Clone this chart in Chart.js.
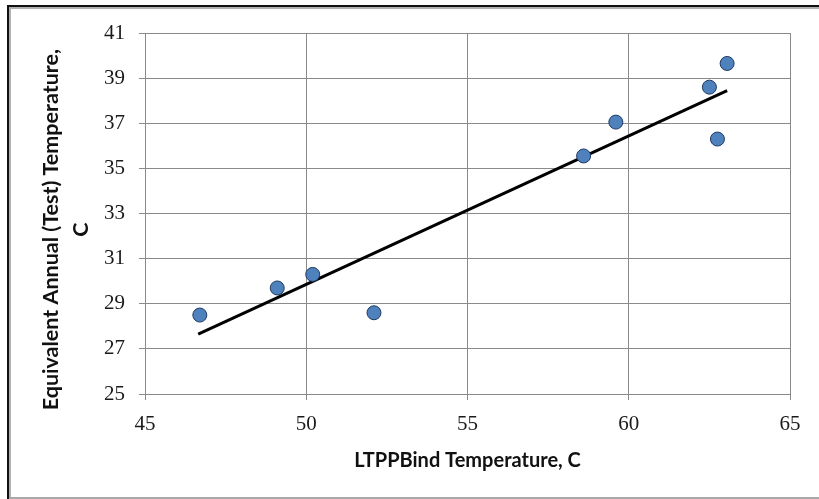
<!DOCTYPE html>
<html>
<head>
<meta charset="utf-8">
<script src="https://cdn.jsdelivr.net/npm/chart.js@4/dist/chart.umd.min.js"></script>
<style>
  html, body { margin: 0; padding: 0; background: #ffffff; }
  #wrap { position: relative; width: 819px; height: 499px; }
  canvas { display: block; }
</style>
</head>
<body>
<div id="wrap"><canvas id="c" width="819" height="499"></canvas></div>
<script>
// Data
const ltppbindTemp = [46.7, 49.1, 50.2, 52.1, 58.6, 59.6, 62.5, 63.05, 62.75];
const equivTemp    = [28.5, 29.7, 30.3, 28.6, 35.55, 37.05, 38.6, 39.65, 36.3];
const trendX = [46.65, 63.05];
const trendY = [27.65, 38.45];
const xTicks = [45, 50, 55, 60, 65];
const yTicks = [25, 27, 29, 31, 33, 35, 37, 39, 41];
const xTitle = 'LTPPBind Temperature, C';
const yTitle = ['Equivalent Annual (Test) Temperature,', 'C'];

const scatterData = ltppbindTemp.map((x, i) => ({ x: x, y: equivTemp[i] }));
const trendData = trendX.map((x, i) => ({ x: x, y: trendY[i] }));
// trailing spaces nudge the centred, rotated title slightly downward like the original
const yTitleText = yTitle.map(s => s + '\u2002\u2002\u2002');

const framePlugin = {
  id: 'frame',
  beforeDraw(chart) {
    const ctx = chart.ctx;
    ctx.save();
    ctx.fillStyle = '#ffffff';
    ctx.fillRect(0, 0, chart.width, chart.height);
    ctx.fillStyle = '#111111';
    ctx.fillRect(7, 5, chart.width - 7, 2);
    ctx.fillStyle = '#b0b0b0';
    ctx.fillRect(9, 7, chart.width - 9, 2);
    ctx.fillStyle = '#111111';
    ctx.fillRect(7, 5, 2, chart.height - 5);
    ctx.fillStyle = '#b0b0b0';
    ctx.fillRect(9, 7, 2, chart.height - 7);
    ctx.fillStyle = '#a8a8a8';
    ctx.fillRect(9, chart.height - 2, chart.width - 9, 2);
    ctx.restore();
  }
};

new Chart(document.getElementById('c'), {
  type: 'scatter',
  data: {
    datasets: [
      {
        type: 'line',
        label: 'Trend',
        data: trendData,
        borderColor: '#000000',
        borderWidth: 3,
        pointRadius: 0,
        fill: false,
        order: 2
      },
      {
        label: 'Data',
        data: scatterData,
        backgroundColor: '#4f81bd',
        borderColor: '#1f3a63',
        borderWidth: 1,
        pointRadius: 7,
        order: 1
      }
    ]
  },
  plugins: [framePlugin],
  options: {
    responsive: false,
    animation: false,
    devicePixelRatio: 1,
    layout: { padding: { left: 0, right: 29, top: 33, bottom: 0 } },
    plugins: { legend: { display: false }, tooltip: { enabled: false } },
    scales: {
      x: {
        type: 'linear',
        min: 45, max: 65,
        afterBuildTicks(axis) { axis.ticks = xTicks.map(v => ({ value: v })); },
        afterFit(axis) { axis.height = 105; },
        grid: { color: '#8a8a8a', lineWidth: 1, tickLength: 6, drawTicks: true },
        border: { color: '#8a8a8a', width: 1 },
        ticks: {
          color: '#1a1a1a',
          padding: 12,
          font: { family: '"Liberation Serif", "DejaVu Serif", serif', size: 21 }
        },
        title: {
          display: true,
          text: xTitle,
          color: '#111111',
          font: { family: 'Lato, "Open Sans", sans-serif', size: 20, weight: 'bold', lineHeight: 1.25 },
          padding: { top: 0, bottom: 26 }
        }
      },
      y: {
        type: 'linear',
        min: 25, max: 41,
        afterBuildTicks(axis) { axis.ticks = yTicks.map(v => ({ value: v })); },
        afterFit(axis) { axis.width = 145; },
        grid: { color: '#8a8a8a', lineWidth: 1, tickLength: 6, drawTicks: true },
        border: { color: '#8a8a8a', width: 1 },
        ticks: {
          color: '#1a1a1a',
          padding: 14,
          font: { family: '"Liberation Serif", "DejaVu Serif", serif', size: 21 }
        },
        title: {
          display: true,
          text: yTitleText,
          color: '#111111',
          font: { family: 'Lato, "Open Sans", sans-serif', size: 21.5, weight: 'bold', lineHeight: 1.4 },
          padding: { top: 36, bottom: 0 }
        }
      }
    }
  }
});
</script>
</body>
</html>
